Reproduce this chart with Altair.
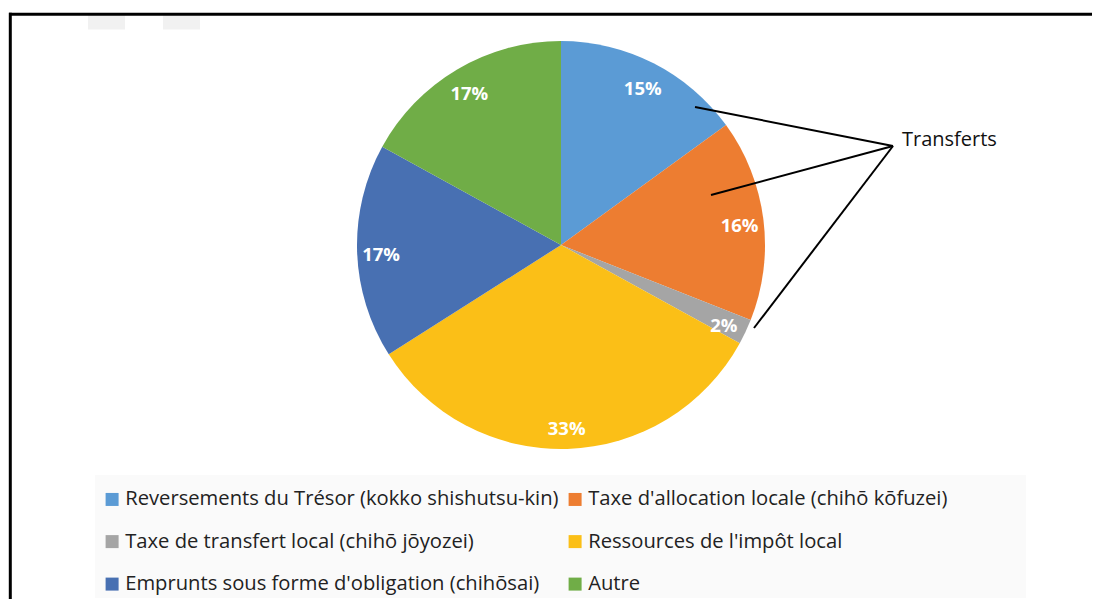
import altair as alt
import pandas as pd

categories = [
    "Reversements du Trésor (kokko shishutsu-kin)",
    "Taxe d'allocation locale (chihō kōfuzei)",
    "Taxe de transfert local (chihō jōyozei)",
    "Ressources de l'impôt local",
    "Emprunts sous forme d'obligation (chihōsai)",
    "Autre",
]
values = [15, 16, 2, 33, 17, 17]
pct_labels = ["15%", "16%", "2%", "33%", "17%", "17%"]
colors = ["#5B9BD5", "#ED7D31", "#A5A5A5", "#FBBF17", "#4870B2", "#70AD47"]
annotation = "Transferts"

# legend is filled column by column: reorder so it reads row by row
legend_idx = [0, 2, 4, 1, 3, 5]
legend_domain = [categories[i] for i in legend_idx]
legend_range = [colors[i] for i in legend_idx]

df = pd.DataFrame({"cat": categories, "val": values, "label": pct_labels, "ord": list(range(len(values)))})
one = pd.DataFrame({"a": [0]})

CX, CY = 553, 237
FONT = "Open Sans"

base = alt.Chart(df)

pie = base.mark_arc(radius=204).encode(
    theta=alt.Theta("val:Q", stack=True),
    order=alt.Order("ord:Q"),
    color=alt.Color(
        "cat:N",
        scale=alt.Scale(domain=legend_domain, range=legend_range),
        legend=alt.Legend(
            orient="none", legendX=94, legendY=481, columns=2, title=None,
            symbolType="square", symbolSize=169, symbolStrokeWidth=0,
            labelFont=FONT, labelFontSize=20.2, labelColor="#222222",
            labelOffset=3, columnPadding=6, rowPadding=21.5, padding=0,
            labelLimit=0,
        ),
    ),
    x=alt.value(CX), y=alt.value(CY),
)

txt = base.mark_text(radius=180, dy=4, font=FONT, fontWeight="bold", fontSize=18.5, color="white").encode(
    theta=alt.Theta("val:Q", stack=True),
    order=alt.Order("ord:Q"),
    text="label:N",
    x=alt.value(CX), y=alt.value(CY),
)

bg = alt.Chart(one).mark_rect(color="#fafafa").encode(
    x=alt.value(87), x2=alt.value(1018), y=alt.value(467), y2=alt.value(590)
)

def seg(x1, y1, x2, y2, w):
    return alt.Chart(one).mark_rule(color="black", strokeWidth=w).encode(
        x=alt.value(x1), y=alt.value(y1), x2=alt.value(x2), y2=alt.value(y2)
    )

lines = [
    seg(687, 99, 885, 138, 2),
    seg(703, 187, 885, 138, 2),
    seg(746, 320, 885, 138, 2),
]

trans = alt.Chart(one).mark_text(font=FONT, fontSize=20, align="left", baseline="alphabetic", color="#111111").encode(
    x=alt.value(894), y=alt.value(138), text=alt.value(annotation)
)

g1 = alt.Chart(one).mark_rect(color="#f1f1f1").encode(
    x=alt.value(80), x2=alt.value(117), y=alt.value(7), y2=alt.value(21.5)
)
g2 = alt.Chart(one).mark_rect(color="#f1f1f1").encode(
    x=alt.value(155), x2=alt.value(192), y=alt.value(7), y2=alt.value(21.5)
)
frame_top = seg(1, 6.2, 1092, 6.2, 3)
frame_left = seg(2.3, 4.7, 2.3, 600, 3)

chart = alt.layer(bg, g1, g2, pie, txt, *lines, trans, frame_top, frame_left).properties(
    width=1084, height=591, padding=0, autosize="none", background="white"
).configure_view(stroke=None)

chart.save("out.html", embed_options={"renderer": "svg", "actions": False})
